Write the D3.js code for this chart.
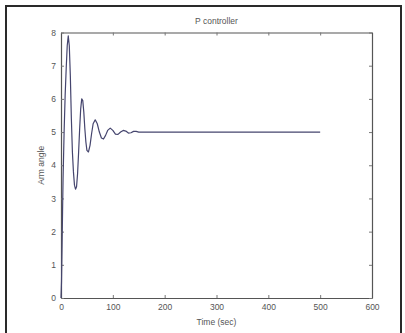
<!DOCTYPE html>
<html>
<head>
<meta charset="utf-8">
<script src="https://cdn.jsdelivr.net/npm/d3@7"></script>
<style>
  body { margin: 0; background: #fff; }
  text { font-family: "Liberation Sans", Arial, sans-serif; }
</style>
</head>
<body>
<script>
const width = 405;
const height = 333;

// response
const timeSec = [0, 1, 2, 3, 4, 6, 8, 10, 12, 14, 16, 18, 20, 22, 24, 26, 28, 30, 32, 34, 36, 38, 40, 42, 44, 46, 48, 50, 53, 56, 59, 62, 66, 70, 74, 78, 82, 86, 90, 95, 100, 105, 110, 115, 120, 125, 130, 135, 140, 145, 150, 500];
const armAngle = [0, 0.5, 1.5, 2.6, 3.6, 5.0, 6.1, 6.9, 7.6, 7.9, 7.6, 6.7, 5.4, 4.4, 3.8, 3.4, 3.28, 3.35, 3.75, 4.4, 5.1, 5.7, 6.0, 5.95, 5.6, 5.1, 4.7, 4.45, 4.4, 4.6, 4.95, 5.25, 5.37, 5.25, 5.0, 4.82, 4.79, 4.9, 5.05, 5.12, 5.05, 4.94, 4.93, 5.0, 5.05, 5.03, 4.97, 4.98, 5.02, 5.02, 5.0, 5.0];
const xTicks = [0, 100, 200, 300, 400, 500, 600];
const yTicks = [0, 1, 2, 3, 4, 5, 6, 7, 8];

const margin = { left: 61, top: 32.5, right: 405 - 372, bottom: 333 - 298 };

const svg = d3.select("body").append("svg")
  .attr("width", width)
  .attr("height", height);

// outer frame
svg.append("rect")
  .attr("x", 6).attr("y", 6)
  .attr("width", 395).attr("height", 340)
  .attr("fill", "none")
  .attr("stroke", "#2a2a2a")
  .attr("stroke-width", 2);

const x = d3.scaleLinear().domain([0, 600]).range([margin.left, width - margin.right]);
const y = d3.scaleLinear().domain([0, 8]).range([height - margin.bottom, margin.top]);

const tickLen = 3;
// axes: ticks inside, matlab style
const axBottom = svg.append("g")
  .attr("transform", `translate(0,${y(0)})`)
  .call(d3.axisBottom(x).tickValues(xTicks).tickSizeInner(-tickLen).tickSizeOuter(0).tickPadding(6));
const axTop = svg.append("g")
  .attr("transform", `translate(0,${y(8)})`)
  .call(d3.axisTop(x).tickValues(xTicks).tickSizeInner(-tickLen).tickSizeOuter(0).tickFormat(""));
const axLeft = svg.append("g")
  .attr("transform", `translate(${x(0)},0)`)
  .call(d3.axisLeft(y).tickValues(yTicks).tickSizeInner(-tickLen).tickSizeOuter(0).tickPadding(5));
const axRight = svg.append("g")
  .attr("transform", `translate(${x(600)},0)`)
  .call(d3.axisRight(y).tickValues(yTicks).tickSizeInner(-tickLen).tickSizeOuter(0).tickFormat(""));

[axBottom, axTop, axLeft, axRight].forEach((g) => {
  g.select(".domain").attr("stroke", "#555").attr("stroke-width", 1.2);
  g.selectAll(".tick line").attr("stroke", "#777");
  g.selectAll(".tick text").attr("fill", "#555").style("font-size", "8.5px");
});

const line = d3.line()
  .x((d, i) => x(timeSec[i]))
  .y((d) => y(d));

svg.append("path")
  .datum(armAngle)
  .attr("d", line)
  .attr("fill", "none")
  .attr("stroke", "#45456e")
  .attr("stroke-width", 1.2)
  .attr("stroke-linejoin", "round");

// title and labels
svg.append("text")
  .attr("x", (x(0) + x(600)) / 2).attr("y", 24)
  .attr("text-anchor", "middle")
  .attr("fill", "#555")
  .style("font-size", "8.5px")
  .text("P controller");

svg.append("text")
  .attr("x", (x(0) + x(600)) / 2).attr("y", 325)
  .attr("text-anchor", "middle")
  .attr("fill", "#555")
  .style("font-size", "8.5px")
  .text("Time (sec)");

svg.append("text")
  .attr("transform", `translate(44,${(y(0) + y(8)) / 2}) rotate(-90)`)
  .attr("text-anchor", "middle")
  .attr("fill", "#555")
  .style("font-size", "8.5px")
  .text("Arm angle");
</script>
</body>
</html>
